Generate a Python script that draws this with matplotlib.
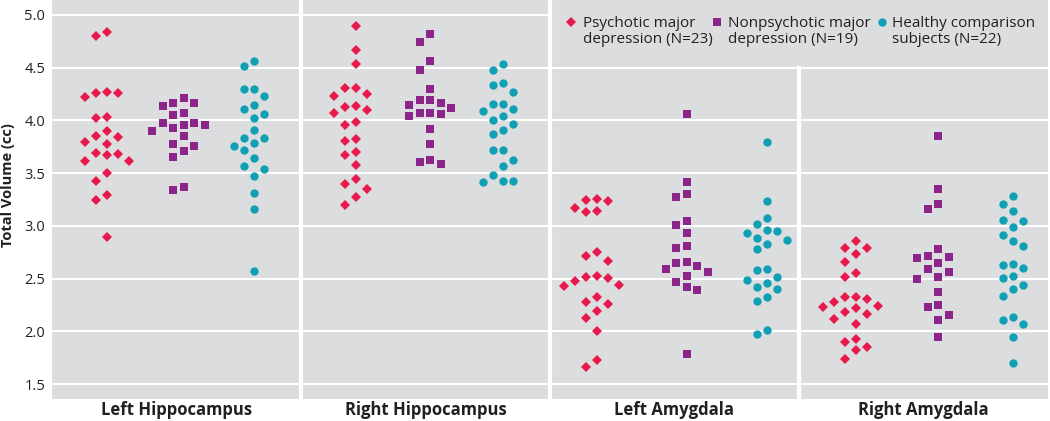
import numpy as np
import matplotlib
matplotlib.use("Agg")
import matplotlib.pyplot as plt

# --- data (cc) ---
regions = ["Left Hippocampus", "Right Hippocampus", "Left Amygdala", "Right Amygdala"]
group_labels = ["Psychotic major\ndepression (N=23)",
                "Nonpsychotic major\ndepression (N=19)",
                "Healthy comparison\nsubjects (N=22)"]

psychotic_lh = [4.80, 4.84, 4.26, 4.22, 4.27, 4.26, 4.02, 4.03, 3.90, 3.78, 3.84, 3.85,
                3.80, 3.62, 3.68, 3.69, 3.67, 3.62, 3.50, 3.43, 3.29, 3.25, 2.90]
psychotic_rh = [4.90, 4.67, 4.54, 4.31, 4.31, 4.23, 4.25, 4.10, 4.13, 4.14, 4.07, 3.96,
                3.99, 3.81, 3.82, 3.67, 3.70, 3.58, 3.45, 3.35, 3.40, 3.27, 3.20]
psychotic_la = [3.17, 3.24, 3.26, 3.25, 3.13, 3.14, 2.72, 2.75, 2.67, 2.53, 2.52, 2.51,
                2.48, 2.445, 2.435, 2.33, 2.26, 2.28, 2.19, 2.13, 2.00, 1.73, 1.66]
psychotic_ra = [2.86, 2.79, 2.79, 2.73, 2.66, 2.52, 2.555, 2.33, 2.33, 2.31, 2.28, 2.23,
                2.24, 2.22, 2.18, 2.17, 2.12, 2.075, 1.93, 1.90, 1.85, 1.82, 1.74]

nonpsychotic_lh = [4.165, 4.17, 4.21, 4.14, 4.05, 4.07, 3.98, 3.96, 3.93, 3.96, 3.98, 3.90,
                   3.85, 3.78, 3.76, 3.71, 3.65, 3.34, 3.37]
nonpsychotic_rh = [4.82, 4.74, 4.56, 4.48, 4.30, 4.19, 4.19, 4.17, 4.15, 4.12, 4.07, 4.07,
                   4.06, 4.04, 3.92, 3.78, 3.61, 3.63, 3.59]
nonpsychotic_la = [4.06, 3.42, 3.27, 3.30, 3.05, 3.01, 2.93, 2.81, 2.79, 2.65, 2.66, 2.62,
                   2.59, 2.53, 2.56, 2.47, 2.42, 2.39, 1.79]
nonpsychotic_ra = [3.855, 3.35, 3.21, 3.16, 2.78, 2.70, 2.72, 2.71, 2.65, 2.59, 2.56, 2.52,
                   2.50, 2.37, 2.23, 2.25, 2.16, 2.11, 1.95]

healthy_lh = [4.56, 4.52, 4.30, 4.30, 4.23, 4.15, 4.11, 4.06, 4.02, 3.91, 3.83, 3.79,
              3.83, 3.76, 3.72, 3.64, 3.54, 3.57, 3.47, 3.31, 3.16, 2.57]
healthy_rh = [4.535, 4.48, 4.36, 4.34, 4.27, 4.16, 4.16, 4.11, 4.09, 4.04, 4.00, 3.97,
              3.91, 3.87, 3.72, 3.72, 3.63, 3.57, 3.43, 3.42, 3.43, 3.48]
healthy_la = [3.80, 3.24, 3.08, 3.02, 2.95, 2.93, 2.96, 2.89, 2.83, 2.87, 2.78, 2.59,
              2.58, 2.52, 2.46, 2.49, 2.42, 2.40, 2.33, 2.29, 1.98, 2.01]
healthy_ra = [3.28, 3.21, 3.14, 3.055, 3.045, 2.99, 2.91, 2.86, 2.81, 2.60, 2.64, 2.63,
              2.51, 2.53, 2.445, 2.34, 2.40, 2.14, 2.11, 2.075, 1.95, 1.705]

groups = [
    [psychotic_lh, psychotic_rh, psychotic_la, psychotic_ra],
    [nonpsychotic_lh, nonpsychotic_rh, nonpsychotic_la, nonpsychotic_ra],
    [healthy_lh, healthy_rh, healthy_la, healthy_ra],
]

# --- styling ---
colors = ["#E8194B", "#8C2589", "#0FA0B4"]
markers = ["D", "s", "o"]
msizes = [5.3, 5.8, 6.0]
steps_px = [11.0, 10.5, 10.0]
# column centre of each group inside a panel (fraction of panel width)
centers = [[0.22, 0.53, 0.81], [0.22, 0.52, 0.81],
           [0.19, 0.55, 0.87], [0.23, 0.56, 0.86]]
bg = "#DCDDDF"
txt = "#231F20"

plt.rcParams["font.family"] = ["Open Sans", "DejaVu Sans"]

fig = plt.figure(figsize=(10.5, 4.21), dpi=100)
ax = fig.add_axes([52 / 1050, 22 / 421, 996 / 1050, 399 / 421])
ax.set_facecolor(bg)
ymin, ymax = 1.36, 5.142
ax.set_xlim(0, 4)
ax.set_ylim(ymin, ymax)
for s in ax.spines.values():
    s.set_visible(False)

px_x = 996 / 4.0
px_y = 399 / (ymax - ymin)


def swarm_offsets(values, step_px, gap_px=11.0):
    """Place points in columns k*step (0, -1, 1, -2, 2, ...) without overlap."""
    vals = np.asarray(values)
    order = np.argsort(vals)[::-1]
    seq = [0] + [s * n for n in range(1, 12) for s in (-1, 1)]
    placed = {}
    out = np.zeros(len(vals))
    for i in order:
        y = vals[i] * px_y
        for k in seq:
            if all(abs(y - yy) >= gap_px for yy in placed.get(k, [])):
                placed.setdefault(k, []).append(y)
                out[i] = k * step_px / px_x
                break
    return out


# gridlines
for v in np.arange(1.5, 5.01, 0.5):
    xmax = 0.5 if v > 4.9 else 1.0
    ax.axhline(v, xmin=0, xmax=xmax, color="white", lw=1.5, zorder=1)
# panel dividers
ax.axvline(1, color="white", lw=3.0, zorder=2)
ax.axvline(2, color="white", lw=3.0, zorder=2)
ax.axvline(3, ymin=0, ymax=(4.5 - ymin) / (ymax - ymin), color="white", lw=3.0, zorder=2)

for g, (series, col, mk, ms, st) in enumerate(zip(groups, colors, markers, msizes, steps_px)):
    for p, vals in enumerate(series):
        xs = p + centers[p][g] + swarm_offsets(vals, st)
        ax.plot(xs, vals, linestyle="none", marker=mk, ms=ms, color=col,
                markeredgewidth=0, zorder=3)

# legend (manual, top right box)
leg_mx = [0.521, 0.668, 0.833]
leg_tx = [0.533, 0.679, 0.843]
for g in range(3):
    ax.plot(leg_mx[g], 1 - 22 / 399, transform=ax.transAxes, linestyle="none",
            marker=markers[g], ms=msizes[g], color=colors[g], markeredgewidth=0,
            clip_on=False, zorder=4)
    ax.text(leg_tx[g], 1 - 31.5 / 399, group_labels[g], transform=ax.transAxes,
            ha="left", va="center", fontsize=11, color=txt, linespacing=1.18)

ax.set_yticks(np.arange(1.5, 5.01, 0.5))
ax.set_yticklabels([f"{v:.1f}" for v in np.arange(1.5, 5.01, 0.5)])
ax.set_xticks([0.5, 1.5, 2.5, 3.5])
ax.set_xticklabels(regions, fontweight="bold")
ax.tick_params(axis="y", length=0, pad=5, labelsize=10.5, labelcolor=txt)
ax.tick_params(axis="x", length=0, pad=1.5, labelsize=12, labelcolor=txt)
ax.set_ylabel("Total Volume (cc)", fontsize=10.5, fontweight="bold", color=txt)
ax.yaxis.set_label_coords(-37 / 996, 1 - 185 / 399)

fig.savefig("out.png", dpi=100, facecolor="white")
